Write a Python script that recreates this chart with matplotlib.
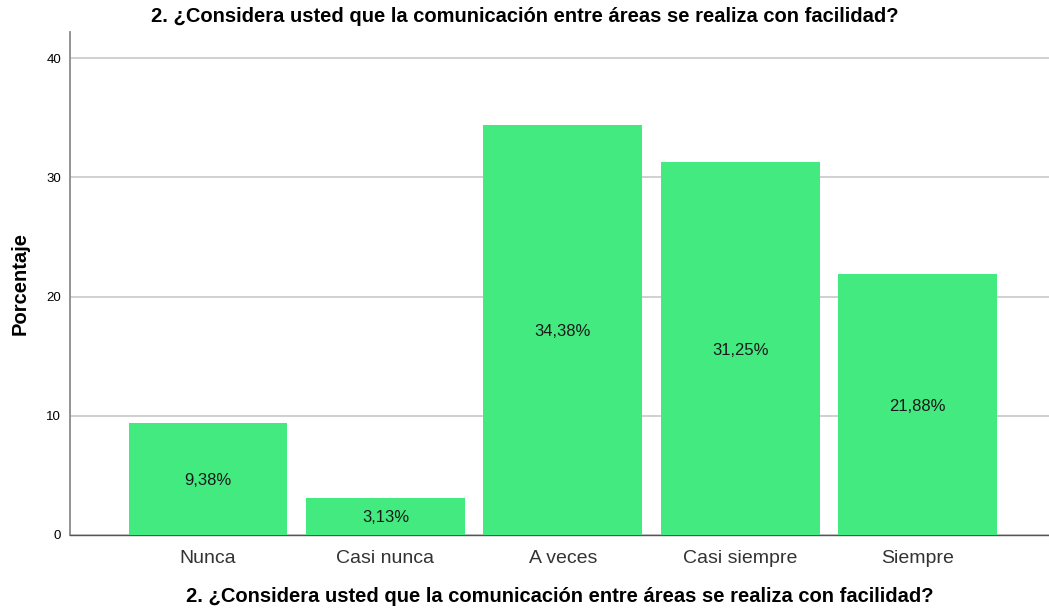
import matplotlib
matplotlib.use("Agg")
import matplotlib.pyplot as plt

plt.rcParams['font.family'] = ['Liberation Sans', 'DejaVu Sans']

categories = ["Nunca", "Casi nunca", "A veces", "Casi siempre", "Siempre"]
values = [9.38, 3.13, 34.38, 31.25, 21.88]
labels = ["9,38%", "3,13%", "34,38%", "31,25%", "21,88%"]
yticks = [0, 10, 20, 30, 40]
title = "2. ¿Considera usted que la comunicación entre áreas se realiza con facilidad?"

fig = plt.figure(figsize=(10.49, 6.10), dpi=100)
ax = fig.add_axes([0.0663, 0.123, 0.9337, 0.8246])

x = list(range(len(categories)))
bars = ax.bar(x, values, width=0.895, color="#42EA80", zorder=3)
for b, lab, v in zip(bars, labels, values):
    ax.text(b.get_x() + b.get_width() / 2, v / 2, lab, ha="center", va="center_baseline",
            fontsize=12, color="#1a1a1a", zorder=4)

ax.set_xlim(-0.78, 4.74)
ax.set_ylim(0, 42.2)
ax.set_yticks(yticks)
ax.set_yticklabels([str(t) for t in yticks], fontsize=9.5)
ax.set_xticks(x)
ax.set_xticklabels(categories, fontsize=14, color="#333333")
ax.tick_params(axis="both", length=0)
ax.tick_params(axis="x", pad=10.5)
ax.tick_params(axis="y", pad=6)
ax.yaxis.grid(True, color="#c8c8c8", linewidth=1.2, zorder=0)
ax.set_axisbelow(True)

for s in ["top", "right"]:
    ax.spines[s].set_visible(False)
ax.spines["left"].set_color("#8a8a8a")
ax.spines["left"].set_linewidth(1.3)
ax.spines["bottom"].set_color("#555555")
ax.spines["bottom"].set_linewidth(1.0)

ax.set_ylabel("Porcentaje", fontsize=14.5, fontweight="bold", labelpad=12)
fig.text(560 / 1049, 1 - 597 / 610, title, ha="center", va="center", fontsize=14.5, fontweight="bold")
fig.text(0.5, 1 - 17 / 610, title, ha="center", va="center", fontsize=14.5, fontweight="bold")

fig.savefig("out.png", dpi=100)
